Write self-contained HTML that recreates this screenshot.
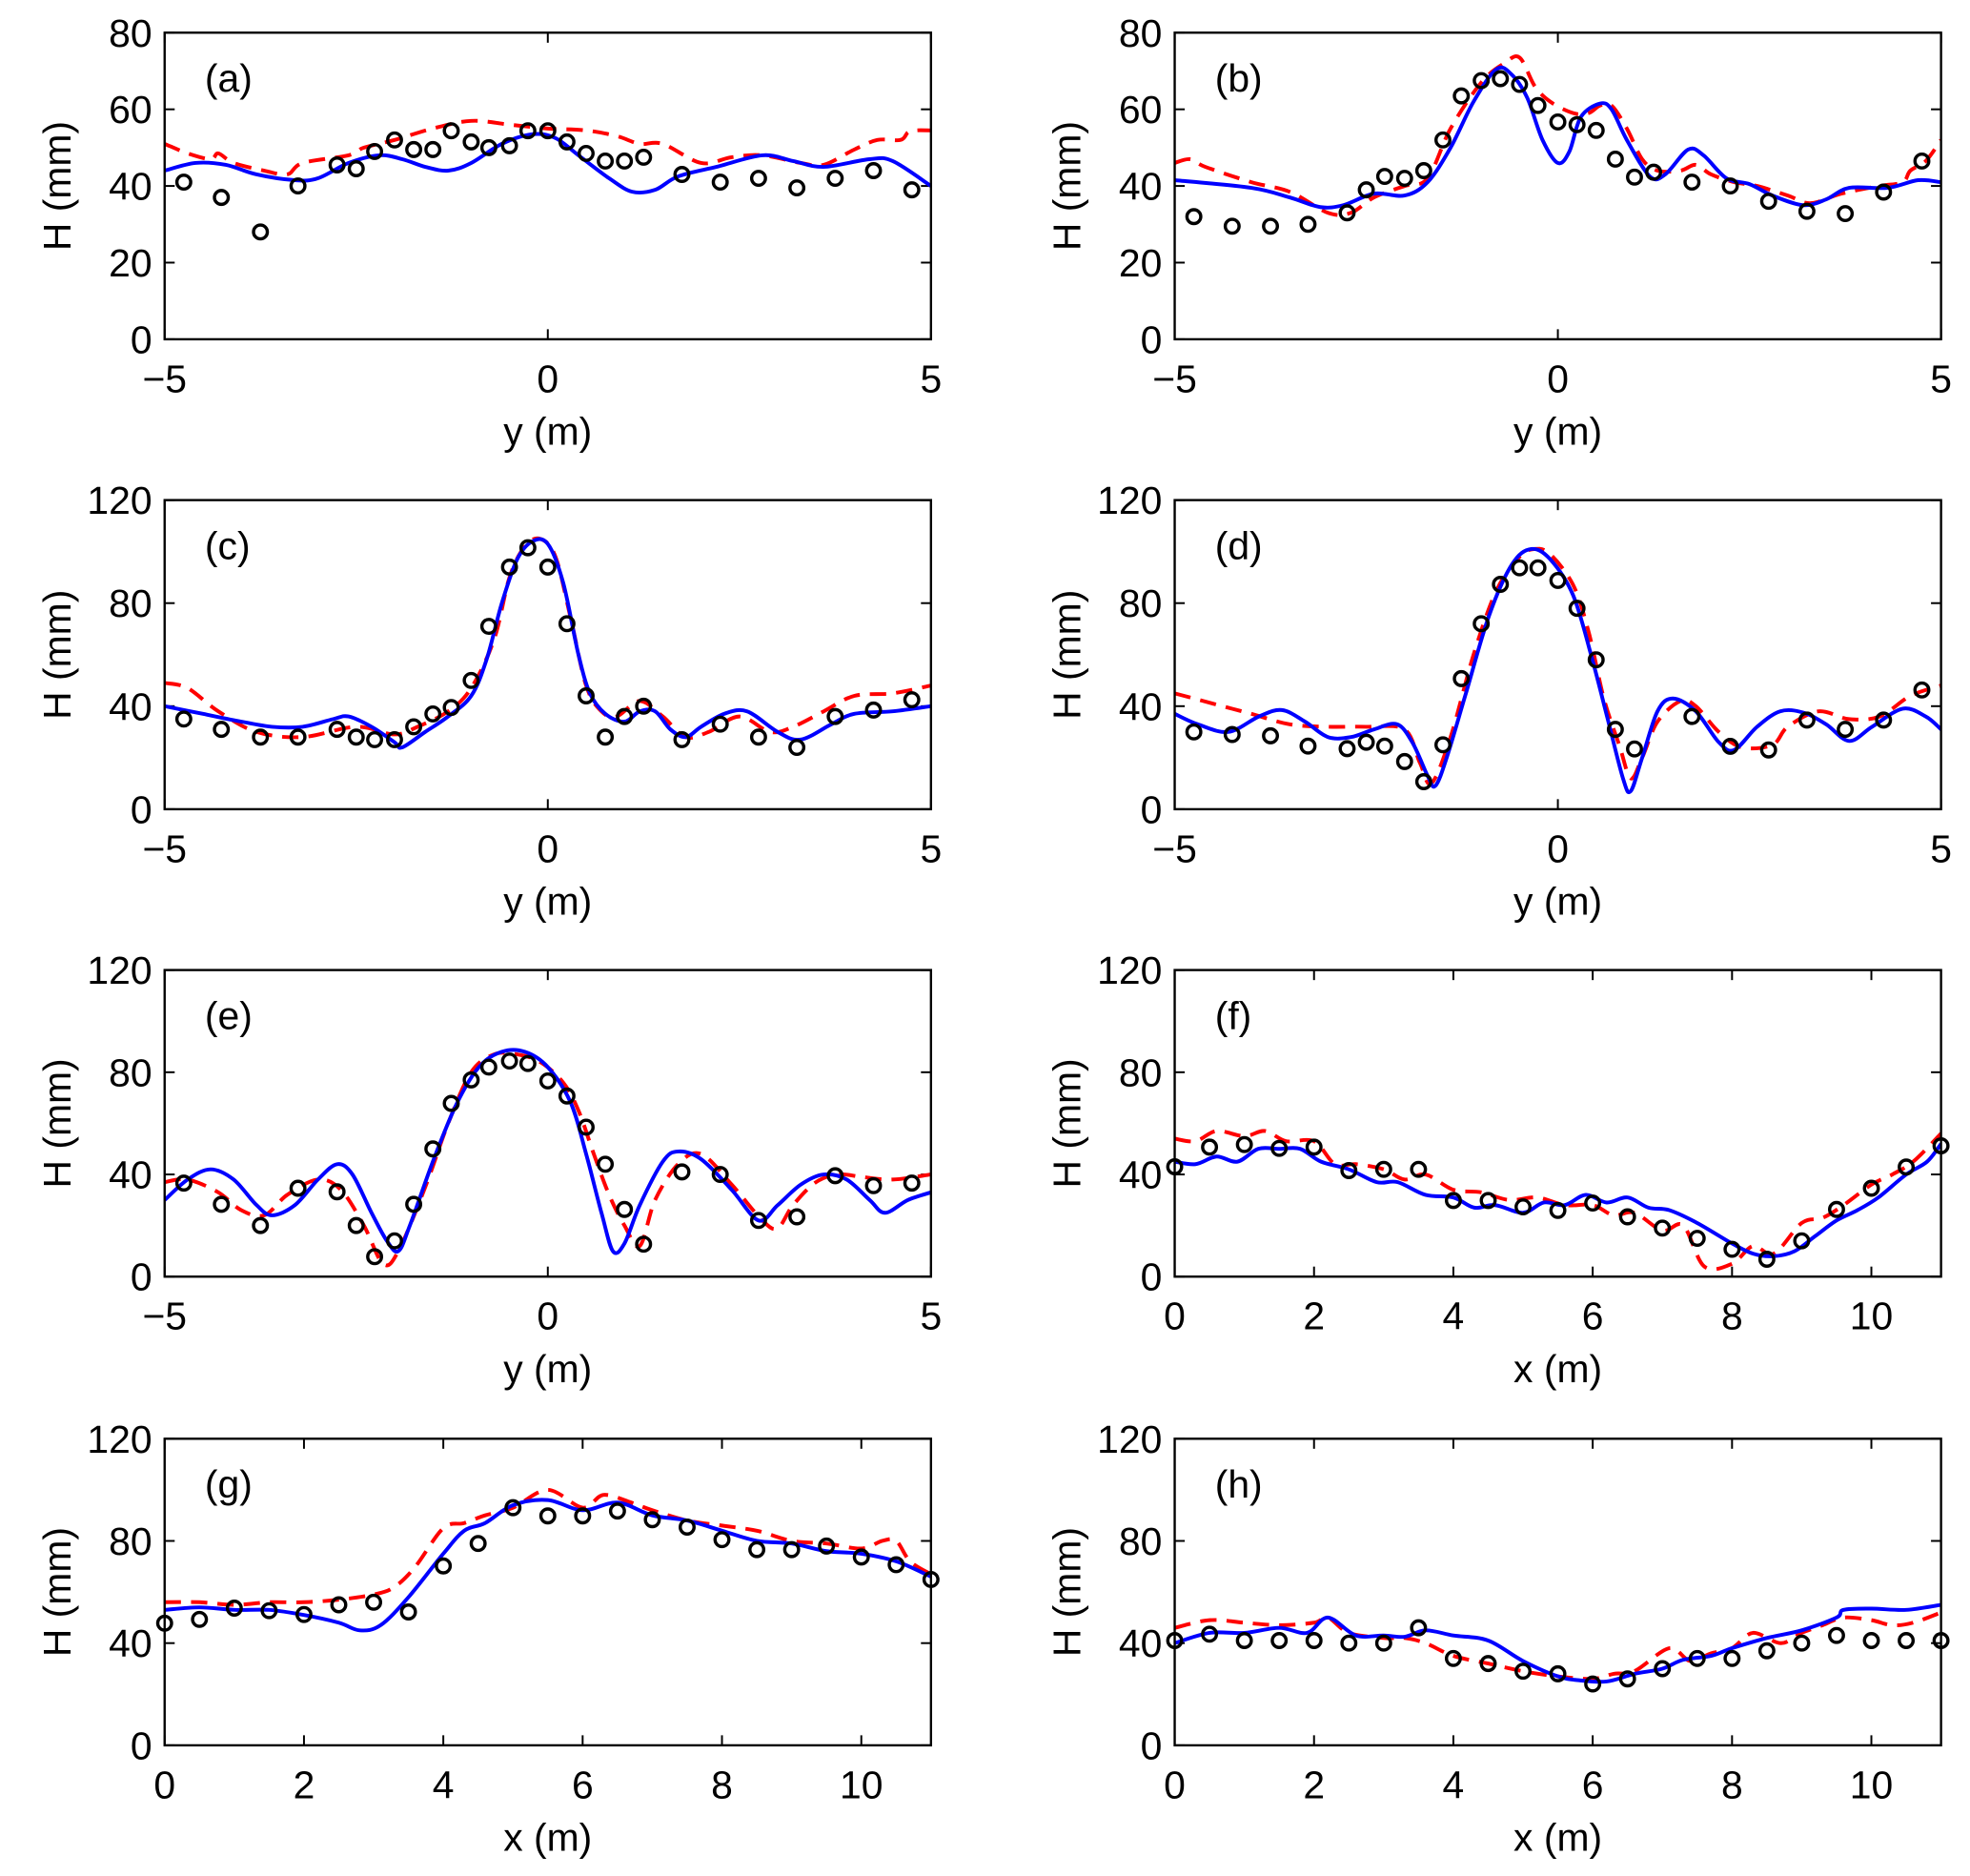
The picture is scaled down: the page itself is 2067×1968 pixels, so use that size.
<!DOCTYPE html>
<html><head><meta charset="utf-8"><style>
html,body{margin:0;padding:0;background:#fff;}
svg{display:block;font-family:"Liberation Sans",sans-serif;}
</style></head><body>
<svg id="fig" width="2067" height="1968" viewBox="0 0 1568 1493" xmlns="http://www.w3.org/2000/svg"></svg>
<script>
// ---- data (panel a) ----
const a_obsY=[-4.75,-4.26,-3.75,-3.26,-2.75,-2.5,-2.26,-2.0,-1.75,-1.5,-1.26,-1.0,-0.77,-0.5,-0.26,0,0.25,0.5,0.75,1.0,1.25,1.75,2.25,2.75,3.25,3.75,4.25,4.75];
const a_obsH=[41,37,28,40,45.5,44.5,49,52,49.5,49.5,54.4,51.5,50,50.5,54.4,54.4,51.5,48.5,46.5,46.5,47.5,43,41,42,39.5,42,44,39];
const a_modY=[-5,-4.6,-4.2,-3.8,-3.3,-3,-2.6,-2.2,-1.9,-1.6,-1.3,-1,-0.6,-0.2,0.1,0.4,0.8,1.1,1.4,1.7,2.2,2.8,3.2,3.6,4.2,4.5,5];
const a_modH=[44,46,45.5,43,41.5,42,46,48,47,45,44,46,51,53.5,52.5,48,42,38.5,39,42.5,45,48,46.5,45,47,46.5,40];
const a_altY=[-5,-4.7,-4.4,-4.3,-4.1,-3.7,-3.4,-3.2,-2.6,-2.4,-2,-1.5,-1,-0.5,0,0.5,0.9,1.2,1.5,2,2.4,2.8,3.3,3.6,4,4.3,4.6,4.7,4.8,5];
const a_altH=[51,48.5,47,48.5,46,44,43,46,48,50,52,55,57,56,55,54.5,53,51,51,46,47.5,48,46,45.5,49.5,52,52,54,54.5,54.5];
// ---- panel b ----
const b_obsY=[-4.75,-4.25,-3.75,-3.26,-2.75,-2.5,-2.26,-2,-1.75,-1.5,-1.26,-1,-0.75,-0.5,-0.26,0,0.25,0.5,0.75,1.0,1.25,1.75,2.25,2.75,3.25,3.75,4.25,4.75];
const b_obsH=[32,29.5,29.5,30,33,39,42.5,42,44,52,63.5,67.5,68,66.5,61,56.7,56,54.5,47,42.3,43.6,41,40,36,33.4,32.8,38.4,46.5];
const b_modY=[-5,-4,-3.5,-3.1,-2.8,-2.4,-2,-1.7,-1.4,-1.1,-0.8,-0.6,-0.4,-0.2,0,0.15,0.3,0.55,0.7,0.9,1.2,1.4,1.7,1.9,2.2,2.5,2.8,3.2,3.5,3.8,4.3,4.7,5];
const b_modH=[41.5,39.5,37,34.5,35,38,37.5,41,50,62,70.5,69,63,52,46,49,58,61.5,60,52,42.5,43,49.5,48,42,40.5,37.5,35,36.5,39.5,39.5,41.5,41];
const b_altY=[-5,-4.8,-4.6,-4,-3.5,-3,-2.7,-2.4,-2,-1.7,-1.4,-1,-0.7,-0.5,-0.3,-0.1,0.2,0.4,0.55,0.7,0.9,1.1,1.3,1.6,1.8,2.0,2.3,2.6,3.0,3.3,3.7,4.2,4.5,4.6,4.8,5];
const b_altH=[46,47,45,41,38.5,33,33,37,40,42,55,67,72,73.5,66,62,59,59,61,61,55,47,44,44,45.5,43,41,40,37.5,35.5,38,40,41,44,46.5,52];
// ---- panel c ----
const c_obsY=[-4.75,-4.26,-3.75,-3.26,-2.75,-2.5,-2.26,-2,-1.75,-1.5,-1.26,-1.0,-0.77,-0.5,-0.26,0,0.25,0.5,0.75,1.0,1.25,1.75,2.25,2.75,3.25,3.75,4.25,4.75];
const c_obsH=[35,31,28,28,31,28,27,27,32,37,39.5,50,71,94,101.5,94,72,44,28,36,40,27,33,28,24,36,38.5,42.5];
const c_modY=[-5,-4.5,-4,-3.6,-3.2,-2.8,-2.6,-2.3,-2.0,-1.9,-1.6,-1.3,-1,-0.8,-0.6,-0.4,-0.2,0,0.2,0.4,0.55,0.75,1.0,1.2,1.4,1.6,1.8,2.0,2.3,2.6,3.0,3.3,3.7,4.0,4.5,5];
const c_modH=[40,37,34,32,32,35,36,32,26,24,30,36,44,58,80,97,104,103,88,60,45,37,34,38,38,31,28,32,37,38,30,27,33,37,38,40];
const c_altY=[-5,-4.7,-4.3,-3.8,-3.2,-2.5,-2,-1.7,-1.3,-1,-0.7,-0.5,-0.3,-0.1,0.1,0.3,0.5,0.7,0.9,1.2,1.5,1.8,2.1,2.5,2.9,3.2,3.6,4,4.5,5];
const c_altH=[49,47,38,30,28,32,29,32,38,47,66,90,102,105,98,74,48,38,36,42,36,28,30,36,30,32,38,44,45,48];
// ---- panel d ----
const d_obsY=[-4.75,-4.25,-3.75,-3.26,-2.75,-2.5,-2.26,-2,-1.75,-1.5,-1.26,-1.0,-0.75,-0.5,-0.26,0,0.25,0.5,0.75,1.0,1.75,2.25,2.75,3.25,3.75,4.25,4.75];
const d_obsH=[30,29,28.5,24.5,23.5,26,24.5,18.5,10.7,25,50.7,72,87.3,93.7,93.7,88.8,78,58,31,23.4,36,24.4,23,34.6,31,34.6,46.3];
const d_modY=[-5,-4.7,-4.3,-3.9,-3.6,-3.3,-3,-2.7,-2.4,-2.1,-1.9,-1.7,-1.6,-1.45,-1.2,-0.9,-0.6,-0.35,-0.1,0.2,0.45,0.65,0.85,0.95,1.1,1.3,1.5,1.8,2.1,2.3,2.6,2.9,3.2,3.5,3.8,4.1,4.5,4.8,5];
const d_modH=[37,33,30,36,38.5,34,28,28,31,33,26,13,9,20,45,75,95,101,97,83,58,35,12,7,20,38,43,38,26,23,32,38,37.5,33,26.5,32,39,36,31];
const d_altY=[-5,-4.5,-4,-3.5,-3,-2.5,-2,-1.8,-1.65,-1.4,-1.1,-0.8,-0.5,-0.3,-0.1,0.2,0.4,0.6,0.8,0.95,1.1,1.3,1.6,1.8,2.1,2.4,2.8,3.0,3.4,3.8,4.2,4.6,5];
const d_altH=[45,41,37,33,32,32,31,18,10,28,60,85,98,101,99,87,69,43,25,12,20,34,42,40,30,24,25,32,38,35,36,44,48];
// ---- panel e ----
const e_obsY=[-4.75,-4.26,-3.75,-3.26,-2.75,-2.5,-2.26,-2,-1.75,-1.5,-1.26,-1.0,-0.77,-0.5,-0.26,0,0.25,0.5,0.75,1.0,1.25,1.75,2.25,2.75,3.25,3.75,4.25,4.75];
const e_obsH=[36.6,28.3,20,34.6,33.2,20,7.8,14,28.3,50,67.8,77,82,84.4,83.4,76.6,70.7,58.5,44,26.3,12.7,41,40,22,23.4,39.5,35.6,36.6];
const e_modY=[-5,-4.7,-4.4,-4.1,-3.8,-3.6,-3.3,-3,-2.75,-2.55,-2.3,-2.1,-1.95,-1.8,-1.5,-1.2,-0.9,-0.6,-0.3,0,0.3,0.5,0.7,0.85,1.0,1.2,1.5,1.7,2.0,2.4,2.75,3.0,3.3,3.6,3.9,4.2,4.4,4.7,5];
const e_modH=[30,38,42,38,28,24,28,38,44,40,25,14,10,20,45,67,82,88,88,82,68,48,25,10,13,28,45,49,46,34,22,28,36,40,38,30,25,30,33];
const e_altY=[-5,-4.7,-4.3,-4,-3.7,-3.4,-3,-2.7,-2.4,-2.15,-1.95,-1.6,-1.3,-1,-0.7,-0.4,-0.1,0.2,0.4,0.6,0.8,1.0,1.2,1.4,1.7,2.0,2.4,2.8,3.0,3.2,3.5,3.8,4.1,4.5,5];
const e_altH=[37,38,33,26,24,32,38,34,20,5,10,35,60,80,87,87,84,76,65,48,32,20,12,30,44,48,36,22,19,28,37,40,39,38,40];
// ---- panel f ----
const f_obsX=[0,0.5,1,1.5,2,2.5,3,3.5,4,4.5,5,5.5,6,6.5,7,7.5,8,8.5,9,9.5,10,10.5,11];
const f_obsH=[43,50.7,51.7,50.2,50.7,41.5,42,42,29.8,29.8,27.3,25.9,28.8,23.4,19,15,10.7,6.8,14,26.3,34.6,42.9,51.2];
const f_modX=[0,0.3,0.6,0.9,1.2,1.5,1.8,2.1,2.5,2.9,3.2,3.6,4,4.3,4.6,5,5.3,5.6,5.9,6.2,6.5,6.8,7.1,7.5,8,8.3,8.6,8.9,9.2,9.5,9.8,10.1,10.5,10.8,11];
const f_modH=[45,44,47,45,50,50,50,45,42,37,37,32,31,27,28,25,29,28,32,29,31,27,26,21,13,9,8,10,16,22,26,31,40,45,52];
const f_altX=[0,0.3,0.6,1,1.3,1.6,2,2.3,2.6,3,3.3,3.6,4,4.4,4.8,5.2,5.6,6,6.3,6.6,7,7.3,7.6,8,8.3,8.6,9,9.3,9.6,10,10.3,10.6,11];
const f_altH=[54,53,57,55,57,53,53,44,44,42,38,40,34,33,30,31,28,28,24,25,18,20,4,5,12,9,21,23,28,36,40,45,56];
// ---- panel g ----
const g_obsX=[0,0.5,1,1.5,2,2.5,3,3.5,4,4.5,5,5.5,6,6.5,7,7.5,8,8.5,9,9.5,10,10.5,11];
const g_obsH=[47.8,49.3,53.7,52.7,51.2,55,56,52.2,70.2,79,93,89.8,89.8,91.7,88.3,85.4,80.5,76.6,76.6,78,73.7,70.7,64.9];
const g_modX=[0,0.5,1,1.5,2,2.5,2.8,3.1,3.5,4,4.3,4.6,5,5.5,6,6.5,7,7.5,8,8.5,9,9.5,10,10.5,11];
const g_modH=[53,54,53,53,51,48,45,47,58,75,84,87,94,96,92,95,90,88,84,80,79,76,75,72,66];
const g_altX=[0,0.5,1,1.5,2,2.5,3,3.3,3.6,4,4.3,4.6,5,5.5,6,6.3,6.7,7,7.5,8,8.5,9,9.5,10,10.3,10.5,10.7,11];
const g_altH=[56,56,55,56,56,57,59,62,70,85,87,90,93,100,93,98,95,92,88,86,84,80,79,77,80,80,72,67];
// ---- panel h ----
const h_obsX=[0,0.5,1,1.5,2,2.5,3,3.5,4,4.5,5,5.5,6,6.5,7,7.5,8,8.5,9,9.5,10,10.5,11];
const h_obsH=[41,43.5,41,41,41,40,40,46,34,32,29,28,24,26,30,34,34,37,40,43,41,41,41];
const h_modX=[0,0.5,1,1.5,1.9,2.2,2.6,3,3.3,3.6,4,4.5,5,5.5,5.8,6.2,6.6,7,7.3,7.7,8,8.5,9,9.5,9.6,10,10.5,11];
const h_modH=[40,44,44,46,44,50,43,43,42.5,45,43,41,33,27,25.5,25,28,30,33.5,35,38,42,45,50,53,53.5,53,55];
const h_altX=[0,0.5,1,1.5,2,2.2,2.5,3,3.3,3.6,4,4.5,5,5.5,6,6.3,6.6,7.1,7.4,7.7,8,8.3,8.7,9,9.3,9.6,10,10.3,10.6,11];
const h_altH=[46,49,48,47,48,50,44,42,42,40,35,32,29,27,26,28,29,38,33,36,38,44,40,44,47,50,49,47,48,52];
// ---- ticks ----
const yTicks80=[0,20,40,60,80];
const yTicks120=[0,40,80,120];
const xTicksY=[-5,0,5];
const xTicksX=[0,2,4,6,8,10];
const panelLabels=["(a)","(b)","(c)","(d)","(e)","(f)","(g)","(h)"];

const NS="http://www.w3.org/2000/svg";
const svg=document.getElementById('fig');
function mk(tag,attrs,parent){const e=document.createElementNS(NS,tag);for(const k in attrs)e.setAttribute(k,attrs[k]);(parent||svg).appendChild(e);return e;}
function smoothPath(pts){
  if(pts.length<2)return "";
  let d="M"+pts[0][0].toFixed(1)+","+pts[0][1].toFixed(1);
  for(let i=0;i<pts.length-1;i++){
    const p0=pts[Math.max(0,i-1)],p1=pts[i],p2=pts[i+1],p3=pts[Math.min(pts.length-1,i+2)];
    const c1x=p1[0]+(p2[0]-p0[0])/6,c1y=p1[1]+(p2[1]-p0[1])/6;
    const c2x=p2[0]-(p3[0]-p1[0])/6,c2y=p2[1]-(p3[1]-p1[1])/6;
    d+=" C"+c1x.toFixed(1)+","+c1y.toFixed(1)+" "+c2x.toFixed(1)+","+c2y.toFixed(1)+" "+p2[0].toFixed(1)+","+p2[1].toFixed(1);
  }
  return d;
}
const panels=[
 {id:"a",L:131,T:26,B:270,xmin:-5,xmax:5,ymax:80,xt:xTicksY,yt:yTicks80,xl:"y (m)",o:[a_obsY,a_obsH],m:[a_modY,a_modH],r:[a_altY,a_altH]},
 {id:"b",L:935,T:26,B:270,xmin:-5,xmax:5,ymax:80,xt:xTicksY,yt:yTicks80,xl:"y (m)",o:[b_obsY,b_obsH],m:[b_modY,b_modH],r:[b_altY,b_altH]},
 {id:"c",L:131,T:398,B:644,xmin:-5,xmax:5,ymax:120,xt:xTicksY,yt:yTicks120,xl:"y (m)",o:[c_obsY,c_obsH],m:[c_modY,c_modH],r:[c_altY,c_altH]},
 {id:"d",L:935,T:398,B:644,xmin:-5,xmax:5,ymax:120,xt:xTicksY,yt:yTicks120,xl:"y (m)",o:[d_obsY,d_obsH],m:[d_modY,d_modH],r:[d_altY,d_altH]},
 {id:"e",L:131,T:772,B:1016,xmin:-5,xmax:5,ymax:120,xt:xTicksY,yt:yTicks120,xl:"y (m)",o:[e_obsY,e_obsH],m:[e_modY,e_modH],r:[e_altY,e_altH]},
 {id:"f",L:935,T:772,B:1016,xmin:0,xmax:11,ymax:120,xt:xTicksX,yt:yTicks120,xl:"x (m)",o:[f_obsX,f_obsH],m:[f_modX,f_modH],r:[f_altX,f_altH]},
 {id:"g",L:131,T:1145,B:1389,xmin:0,xmax:11,ymax:120,xt:xTicksX,yt:yTicks120,xl:"x (m)",o:[g_obsX,g_obsH],m:[g_modX,g_modH],r:[g_altX,g_altH]},
 {id:"h",L:935,T:1145,B:1389,xmin:0,xmax:11,ymax:120,xt:xTicksX,yt:yTicks120,xl:"x (m)",o:[h_obsX,h_obsH],m:[h_modX,h_modH],r:[h_altX,h_altH]}
];
const W=610;
panels.forEach((p,pi)=>{
  const g=mk('g',{});
  
  
  const R=p.L+W;
  const sx=v=>p.L+(v-p.xmin)/(p.xmax-p.xmin)*W;
  const sy=v=>p.B-v/p.ymax*(p.B-p.T);
  const clip=mk('clipPath',{id:'clip'+p.id},g);
  mk('rect',{x:p.L,y:p.T,width:W,height:p.B-p.T},clip);
  p.yt.forEach(v=>{
    const y=sy(v);
    const t=mk('line',{x1:p.L,y1:y,x2:p.L+8,y2:y,stroke:'#000','stroke-width':1.5},g);
    
    
    mk('line',{x1:R,y1:y,x2:R-8,y2:y,stroke:'#000','stroke-width':1.5},g);
    const tx=mk('text',{x:p.L-10,y:y+11,'font-size':31,'text-anchor':'end'},g);
    
    
    tx.textContent=v;
  });
  p.xt.forEach(v=>{
    const x=sx(v);
    const t=mk('line',{x1:x,y1:p.B,x2:x,y2:p.B-8,stroke:'#000','stroke-width':1.5},g);
    
    
    mk('line',{x1:x,y1:p.T,x2:x,y2:p.T+8,stroke:'#000','stroke-width':1.5},g);
    const tx=mk('text',{x:x,y:p.B+42,'font-size':31,'text-anchor':'middle'},g);
    
    
    tx.textContent=(v<0?'\u2212'+(-v):v);
  });
  const xl=mk('text',{x:p.L+W/2,y:p.B+84,'font-size':31,'text-anchor':'middle'},g);
  
  
  xl.textContent=p.xl;
  const cy=(p.T+p.B)/2;
  const yl=mk('text',{x:0,y:0,'font-size':31,'text-anchor':'middle',transform:'translate('+(p.L-75)+','+cy+') rotate(-90)'},g);
  
  
  yl.textContent='H (mm)';
  const pl=mk('text',{x:p.L+32,y:p.T+47,'font-size':31},g);
  
  
  pl.textContent=panelLabels[pi];
  const cg=mk('g',{'clip-path':'url(#clip'+p.id+')'},g);
  const rp=p.r[0].map((x,i)=>[sx(x),sy(p.r[1][i])]);
  const red=mk('path',{d:smoothPath(rp),fill:'none',stroke:'#ff0000','stroke-width':3,'stroke-dasharray':'13 8'},cg);
  
  
  const bp=p.m[0].map((x,i)=>[sx(x),sy(p.m[1][i])]);
  const blue=mk('path',{d:smoothPath(bp),fill:'none',stroke:'#0000ff','stroke-width':3},cg);
  
  
  p.o[0].forEach((x,i)=>{
    const c=mk('circle',{cx:sx(x),cy:sy(p.o[1][i]),r:5.5,fill:'none',stroke:'#000','stroke-width':2.6},g);
    
    
  });
  const box=mk('rect',{x:p.L,y:p.T,width:W,height:p.B-p.T,fill:'none',stroke:'#000','stroke-width':1.8},g);
  
  
});
</script>
</body></html>
